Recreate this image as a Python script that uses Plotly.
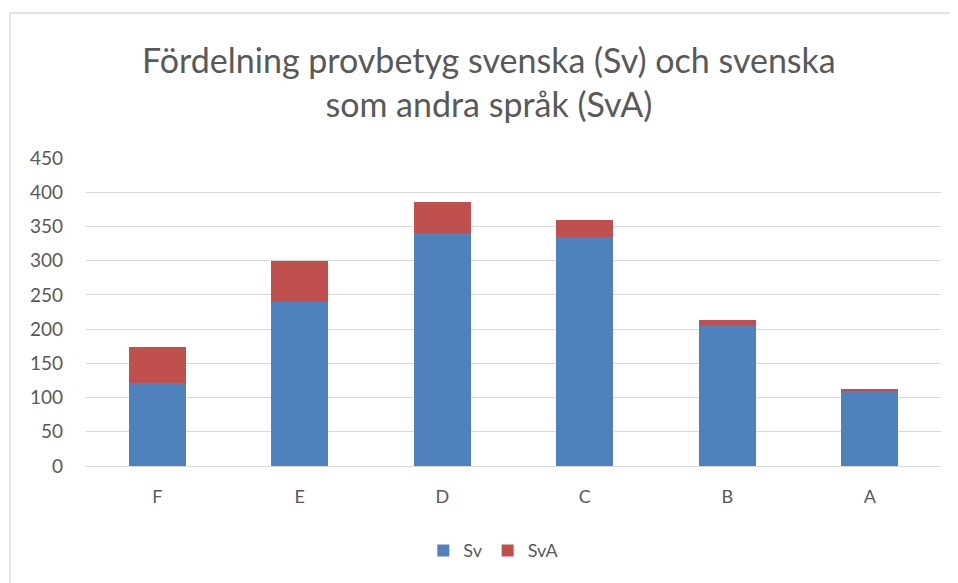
import plotly.graph_objects as go

categories = ["F", "E", "D", "C", "B", "A"]
sv = [121, 239, 340, 334, 206, 110]
sva = [53, 60, 46, 25, 8, 2]
y_ticks = [0, 50, 100, 150, 200, 250, 300, 350, 400, 450]

font_family = "Lato, 'Open Sans', sans-serif"
grey = "#595959"

fig = go.Figure()
fig.add_trace(go.Bar(x=categories, y=sv, name="Sv", marker=dict(color="#4F81BD", line=dict(width=0))))
fig.add_trace(go.Bar(x=categories, y=sva, name="SvA", marker=dict(color="#C0504D", line=dict(width=0))))

fig.update_layout(
    barmode="stack",
    bargap=0.6,
    width=958,
    height=583,
    paper_bgcolor="white",
    plot_bgcolor="white",
    margin=dict(l=78, r=25, t=150, b=125),
    title=dict(
        text="Fördelning provbetyg svenska (Sv) och svenska<br>som andra språk (SvA)",
        x=0.502, xanchor="center", y=0.889, yanchor="top",
        font=dict(family=font_family, size=34, color=grey),
    ),
    font=dict(family=font_family, color=grey),
    legend=dict(
        orientation="h", x=0.477, xanchor="center", y=-0.215, yanchor="top",
        font=dict(size=18, color=grey),
        traceorder="normal",
    ),
    xaxis=dict(
        showgrid=False, showline=True, linecolor="#D9D9D9", linewidth=1,
        tickfont=dict(size=18, color=grey), ticks="", ticklabelstandoff=14,
    ),
    yaxis=dict(
        range=[0, 450], tickvals=y_ticks, showgrid=True, gridcolor="#D9D9D9", gridwidth=1,
        zeroline=False, showline=False, tickfont=dict(size=19, color=grey), ticks="",
        ticklabelstandoff=22,
    ),
    shapes=[
        dict(type="line", xref="paper", yref="paper", x0=-0.0889, x1=1.1, y0=1.471, y1=1.471,
             line=dict(color="#D9D9D9", width=1.5)),
        dict(type="line", xref="paper", yref="paper", x0=-0.0889, x1=-0.0889, y0=1.471, y1=-0.5,
             line=dict(color="#D9D9D9", width=1.5)),
    ],
)

fig.write_html("out.html")
